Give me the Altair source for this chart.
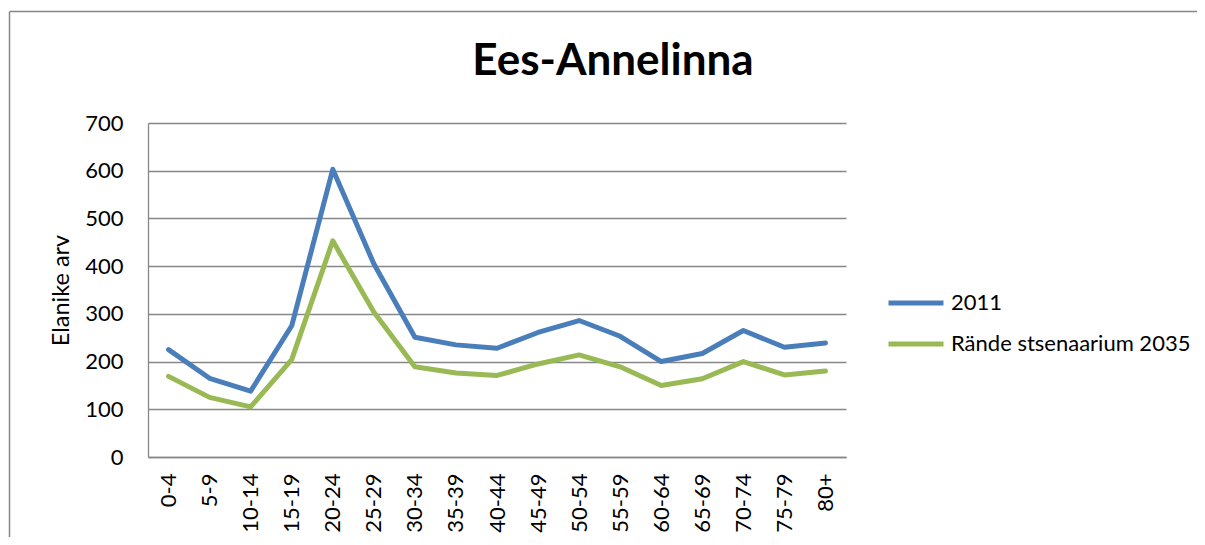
import altair as alt
import pandas as pd

age_groups = ["0-4", "5-9", "10-14", "15-19", "20-24", "25-29", "30-34", "35-39",
              "40-44", "45-49", "50-54", "55-59", "60-64", "65-69", "70-74", "75-79", "80+"]
pop_2011 = [225, 165, 138, 275, 603, 405, 251, 235, 228, 261, 286, 253, 200, 217, 265, 230, 239]
pop_2035 = [169, 125, 105, 204, 453, 304, 189, 176, 171, 195, 214, 189, 150, 164, 200, 172, 180]
series_names = ["2011", "Rände stsenaarium 2035"]
series_colors = ["#4A7EBB", "#98B954"]
y_ticks = [0, 100, 200, 300, 400, 500, 600, 700]

df = pd.DataFrame({
    "age": age_groups * 2,
    "value": pop_2011 + pop_2035,
    "series": [series_names[0]] * len(age_groups) + [series_names[1]] * len(age_groups),
})

FONT = "Lato"
GRAY = "#878787"

lines = alt.Chart(df).mark_line(strokeWidth=5, strokeCap="round", strokeJoin="round").encode(
    x=alt.X("age:N", sort=age_groups, title=None,
            axis=alt.Axis(labelAngle=-90, ticks=False, grid=False, labelPadding=16,
                          domainColor=GRAY, domainWidth=1.3)),
    y=alt.Y("value:Q", scale=alt.Scale(domain=[0, 700]), title="Elanike arv",
            axis=alt.Axis(values=y_ticks, ticks=False, grid=True, gridColor=GRAY, gridWidth=1.3,
                          domainColor=GRAY, domainWidth=1.3, labelPadding=25,
                          titleX=-87, titleY=167, titleAlign="center", titleBaseline="middle",
                          titleFontSize=23.5, titleFontWeight="normal")),
    color=alt.Color("series:N", sort=series_names, title=None,
                    scale=alt.Scale(domain=series_names, range=series_colors),
                    legend=alt.Legend(orient="none", legendX=738, legendY=150,
                                      symbolType="stroke", symbolSize=3025, symbolStrokeWidth=5,
                                      labelFont=FONT, labelFontSize=22, labelColor="black",
                                      labelLimit=400, labelOffset=5, rowPadding=-9, padding=0,
                                      direction="vertical")),
)

frame_df = pd.DataFrame({"a": [0]})
frame_top = alt.Chart(frame_df).mark_rule(color=GRAY, strokeWidth=1.5).encode(
    x=alt.value(-138.5), x2=alt.value(1060), y=alt.value(-111.5))
frame_left = alt.Chart(frame_df).mark_rule(color=GRAY, strokeWidth=1.5).encode(
    x=alt.value(-138.5), y=alt.value(-111.5), y2=alt.value(420))

chart = alt.layer(frame_top, frame_left, lines).properties(
    width=698, height=334,
    title=alt.TitleParams("Ees-Annelinna", font=FONT, fontSize=44, fontWeight="bold",
                          anchor="middle", frame="group", dx=116, dy=108, offset=0,
                          baseline="alphabetic", color="black"),
    padding={"left": 140, "top": 115, "right": 351, "bottom": 80},
    autosize="none",
).configure_axis(
    labelFont=FONT, labelFontSize=22, labelColor="black", titleFont=FONT, titleColor="black",
).configure_view(stroke=None)

chart.save("out.html", embed_options={"renderer": "svg", "actions": False})
